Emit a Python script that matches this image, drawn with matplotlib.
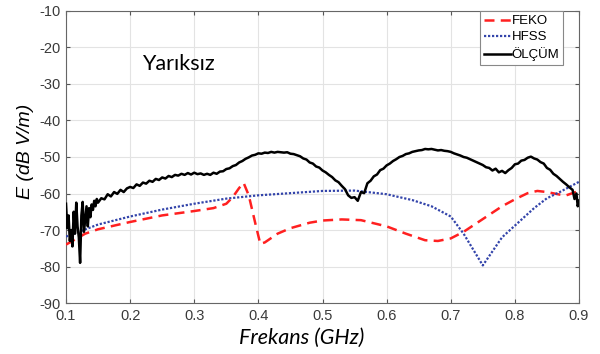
import numpy as np
import matplotlib
matplotlib.use("Agg")
import matplotlib.pyplot as plt

# ---------------- data ----------------
feko_f = [0.100, 0.130, 0.150, 0.200, 0.250, 0.300, 0.330, 0.350, 0.360, 0.370, 0.377,
          0.385, 0.395, 0.403, 0.410, 0.430, 0.450, 0.480, 0.500, 0.530, 0.560, 0.600,
          0.630, 0.660, 0.680, 0.700, 0.720, 0.750, 0.780, 0.800, 0.820, 0.835, 0.850,
          0.870, 0.880, 0.900]
feko_e = [-74.0, -71.0, -69.8, -67.8, -66.0, -64.8, -64.0, -62.8, -61.0, -58.5, -57.1,
          -60.5, -68.0, -73.8, -73.4, -71.0, -69.5, -68.0, -67.4, -67.1, -67.3, -69.0,
          -71.0, -72.8, -73.0, -72.3, -70.5, -67.0, -63.5, -61.6, -59.9, -59.3, -59.6,
          -60.3, -60.5, -59.3]

hfss_f = [0.100, 0.120, 0.150, 0.200, 0.250, 0.300, 0.350, 0.400, 0.450, 0.500, 0.550,
          0.600, 0.640, 0.670, 0.700, 0.720, 0.750, 0.780, 0.800, 0.830, 0.850, 0.870,
          0.900]
hfss_e = [-71.8, -70.5, -68.5, -66.3, -64.4, -62.8, -61.4, -60.5, -59.9, -59.3, -59.2,
          -60.2, -61.8, -63.5, -66.3, -71.0, -79.7, -72.0, -68.8, -64.0, -61.3, -59.6,
          -56.8]

olcum_f = [0.100, 0.102, 0.104, 0.106, 0.108, 0.110, 0.112, 0.114, 0.116, 0.118, 0.120,
           0.122, 0.124, 0.126, 0.128, 0.130, 0.132, 0.134, 0.136, 0.138, 0.140, 0.142,
           0.144, 0.146, 0.148, 0.150,
           0.155, 0.160, 0.165, 0.170, 0.175, 0.180, 0.185, 0.190, 0.195, 0.200,
           0.205, 0.210, 0.215, 0.220, 0.225, 0.230, 0.235, 0.240, 0.245, 0.250,
           0.255, 0.260, 0.265, 0.270, 0.275, 0.280, 0.285, 0.290, 0.295, 0.300,
           0.305, 0.310, 0.315, 0.320, 0.325, 0.330, 0.335, 0.340, 0.345, 0.350,
           0.355, 0.360, 0.365, 0.370, 0.375, 0.380, 0.385, 0.390, 0.395, 0.400,
           0.405, 0.410, 0.415, 0.420, 0.425, 0.430, 0.435, 0.440, 0.445, 0.450,
           0.455, 0.460, 0.465, 0.470, 0.475, 0.480, 0.485, 0.490, 0.495, 0.500,
           0.505, 0.510, 0.515, 0.520, 0.525, 0.530, 0.535, 0.540, 0.545, 0.550,
           0.555, 0.560, 0.565, 0.570, 0.575, 0.580, 0.585, 0.590, 0.595, 0.600,
           0.605, 0.610, 0.615, 0.620, 0.625, 0.630, 0.635, 0.640, 0.645, 0.650,
           0.655, 0.660, 0.665, 0.670, 0.675, 0.680, 0.685, 0.690, 0.695, 0.700,
           0.705, 0.710, 0.715, 0.720, 0.725, 0.730, 0.735, 0.740, 0.745, 0.750,
           0.755, 0.760, 0.765, 0.770, 0.775, 0.780, 0.785, 0.790, 0.795, 0.800,
           0.805, 0.810, 0.815, 0.820, 0.825, 0.830, 0.835, 0.840, 0.845, 0.850,
           0.855, 0.860, 0.865, 0.870, 0.875, 0.880, 0.885, 0.890, 0.893, 0.896,
           0.898, 0.900]
olcum_e = [-62.8, -69.5, -66.0, -73.0, -70.0, -74.5, -65.0, -71.0, -62.5, -69.0, -72.0,
           -79.0, -66.0, -62.3, -70.5, -67.0, -63.5, -69.0, -64.0, -66.5, -63.0, -64.5,
           -62.0, -63.5, -61.5, -62.5,
           -61.3, -61.6, -60.2, -60.8, -59.6, -60.1, -59.0, -59.6, -58.6, -58.2,
           -58.5, -57.5, -57.9, -57.0, -57.3, -56.5, -56.8, -56.0, -56.3, -55.6,
           -55.9, -55.2, -55.5, -54.9, -55.1, -54.6, -54.9, -54.4, -54.8, -54.3,
           -54.7, -54.5, -54.9, -54.6, -54.9, -54.3, -54.6, -54.0, -53.9, -53.3,
           -53.1, -52.5, -52.2, -51.5, -51.1, -50.5, -50.1, -49.6, -49.4, -49.0,
           -49.1, -48.8, -48.9, -48.6, -48.8, -48.6, -48.7, -48.8, -48.7, -49.1,
           -49.2, -49.5, -49.8, -50.4, -50.7, -51.5, -51.8, -52.6, -52.9, -53.7,
           -54.2, -54.9, -55.5, -56.4, -56.9, -57.9, -58.8, -60.5, -61.2, -61.0,
           -62.0, -59.6, -59.9, -57.2, -56.5, -55.3, -54.8, -53.6, -53.2, -52.3,
           -51.8, -51.1, -50.6, -50.0, -49.7, -49.2, -49.0, -48.6, -48.4, -48.2,
           -48.1, -47.8, -47.9, -47.8, -48.0, -48.2, -48.1, -48.3, -48.4, -48.6,
           -49.0, -49.3, -49.6, -50.0, -50.2, -50.6, -51.0, -51.4, -51.8, -52.2,
           -52.8, -53.0, -53.7, -53.2, -54.2, -53.8, -54.4, -53.6, -53.0, -52.0,
           -51.8, -51.0, -50.8, -50.2, -49.9, -50.4, -50.7, -51.4, -51.8, -53.0,
           -53.5, -54.6, -55.2, -56.0, -56.8, -57.5, -58.3, -59.0, -61.5, -60.0,
           -63.5, -62.0]

x_ticks = [0.1, 0.2, 0.3, 0.4, 0.5, 0.6, 0.7, 0.8, 0.9]
y_ticks = [-90, -80, -70, -60, -50, -40, -30, -20, -10]

# ---------------- plot ----------------
fig = plt.figure(figsize=(6.0, 3.54), dpi=100)
ax = fig.add_axes([0.11, 0.144, 0.855, 0.825])

ax.plot(feko_f, feko_e, color="#ff2020", lw=1.8, ls=(0, (4, 2.5)), label="FEKO", zorder=3)
ax.plot(hfss_f, hfss_e, color="#3344aa", lw=1.6, ls=(0, (1, 0.8)), label="HFSS", zorder=3)
ax.plot(olcum_f, olcum_e, color="black", lw=1.8, label="ÖLÇÜM", zorder=4)

ax.set_xlim(0.1, 0.9)
ax.set_ylim(-90, -10)
ax.set_xticks(x_ticks)
ax.set_yticks(y_ticks)
ax.set_xticklabels([f"{v:g}" for v in x_ticks])
ax.set_yticklabels([f"{v}" for v in y_ticks])
ax.grid(True, color="#e3e3e3", lw=0.8)
ax.set_axisbelow(True)
ax.tick_params(direction="in", top=True, right=True, length=3, color="#555555",
               labelsize=10.5, labelcolor="#3a3a3a", pad=4)
for lab in ax.get_xticklabels() + ax.get_yticklabels():
    lab.set_family("Liberation Sans")
for s in ax.spines.values():
    s.set_color("#666666")
    s.set_linewidth(0.8)

ax.set_xlabel("Frekans (GHz)", family="Lato", style="italic", fontsize=15.5, labelpad=0)
ax.xaxis.set_label_coords(0.46, -0.085)
ax.set_ylabel("E (dB V/m)", family="Liberation Sans", style="italic", fontsize=14)
ax.yaxis.set_label_coords(-0.062, 0.52)

ax.text(0.275, -24.5, "Yarıksız", family="Lato", fontsize=15.5, ha="center", va="center")

leg = ax.legend(loc="upper right", bbox_to_anchor=(0.969, 1.0),
                prop={"family": "Liberation Sans", "size": 9.5},
                handlelength=2.0, handletextpad=0.05, borderpad=0.3, labelspacing=0.3,
                borderaxespad=0.0, fancybox=False, framealpha=1, edgecolor="#888888")
leg.get_frame().set_linewidth(0.8)

fig.savefig("out.png", dpi=100)
